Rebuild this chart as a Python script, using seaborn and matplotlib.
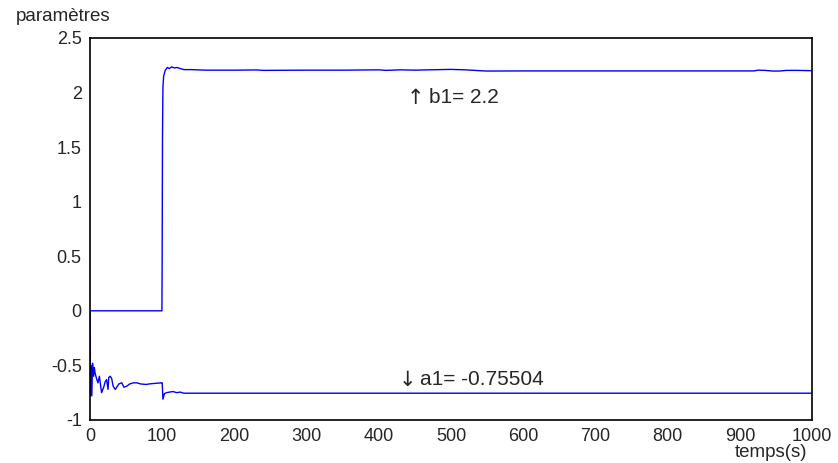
import matplotlib
matplotlib.use("Agg")
import matplotlib.pyplot as plt
import seaborn as sns
import pandas as pd

# b1 trace (time in s, value)
b1_t = [0, 99.6, 99.9, 100.4, 101, 102, 104, 107, 110, 113, 117, 120, 125, 130, 140, 160,
        200, 230, 240, 300, 350, 400, 410, 430, 450, 470, 500, 520, 540, 550, 600, 700,
        800, 920, 925, 935, 945, 955, 965, 980, 1000]
b1_v = [0, 0, 0.4, 1.6, 2.05, 2.15, 2.2, 2.23, 2.22, 2.235, 2.225, 2.23, 2.22, 2.21, 2.21, 2.205,
        2.205, 2.207, 2.203, 2.205, 2.205, 2.208, 2.203, 2.208, 2.205, 2.208, 2.212, 2.208, 2.2, 2.197, 2.198, 2.198,
        2.198, 2.198, 2.205, 2.203, 2.197, 2.197, 2.203, 2.203, 2.2]

# a1 trace
a1_t = [0, 0.5, 1.5, 2.5, 3.5, 5, 6, 7, 9, 11, 13, 16, 19, 21, 23, 25, 26, 28, 30, 32, 35, 37,
        40, 44, 47, 51, 55, 60, 65, 70, 78, 82, 90, 99, 100, 101, 103, 106, 110, 115, 120, 125,
        130, 1000]
a1_v = [0, -0.78, -0.5, -0.78, -0.48, -0.6, -0.52, -0.57, -0.62, -0.66, -0.6, -0.75, -0.7, -0.65,
        -0.63, -0.72, -0.61, -0.6, -0.62, -0.69, -0.72, -0.70, -0.67, -0.66, -0.7, -0.69, -0.67,
        -0.66, -0.66, -0.67, -0.675, -0.67, -0.665, -0.66, -0.66, -0.81, -0.76, -0.75, -0.745,
        -0.74, -0.75, -0.745, -0.755, -0.755]

xticks = [0, 100, 200, 300, 400, 500, 600, 700, 800, 900, 1000]
yticks = [-1, -0.5, 0, 0.5, 1, 1.5, 2, 2.5]
ytick_labels = ["-1", "-0.5", "0", "0.5", "1", "1.5", "2", "2.5"]

sns.set_style("white")
plt.rcParams['font.family'] = ['Liberation Sans', 'DejaVu Sans']

fig = plt.figure(figsize=(8.38, 4.63), dpi=100)
ax = fig.add_axes([0.1074, 0.093, 0.8616, 0.825])

df_b = pd.DataFrame({"t": b1_t, "v": b1_v})
df_a = pd.DataFrame({"t": a1_t, "v": a1_v})
sns.lineplot(data=df_b, x="t", y="v", ax=ax, color="#0000ff", linewidth=1.0, sort=False, estimator=None)
sns.lineplot(data=df_a, x="t", y="v", ax=ax, color="#0000ff", linewidth=1.0, sort=False, estimator=None)

ax.set_xlim(0, 1000)
ax.set_ylim(-1, 2.5)
ax.set_xticks(xticks)
ax.set_xticklabels([str(x) for x in xticks], fontsize=13)
ax.set_yticks(yticks)
ax.set_yticklabels(ytick_labels, fontsize=13)
ax.tick_params(direction="in", length=4, width=0.8, color="black", pad=6)
for s in ax.spines.values():
    s.set_color("black")
    s.set_linewidth(1.2)
ax.set_xlabel("")
ax.set_ylabel("")

fig.text(0.075, 0.965, "paramètres", fontsize=13.5, ha="center", va="center")
fig.text(0.92, 0.023, "temps(s)", fontsize=13.5, ha="center", va="center")

ax.text(439, 1.95, "↑", fontsize=15, ha="left", va="center", family=['DejaVu Sans'])
ax.text(469, 1.95, "b1= 2.2", fontsize=15, ha="left", va="center")
ax.text(428, -0.63, "↓", fontsize=15, ha="left", va="center", family=['DejaVu Sans'])
ax.text(457, -0.63, "a1= -0.75504", fontsize=15, ha="left", va="center")

fig.savefig("out.png", dpi=100)
